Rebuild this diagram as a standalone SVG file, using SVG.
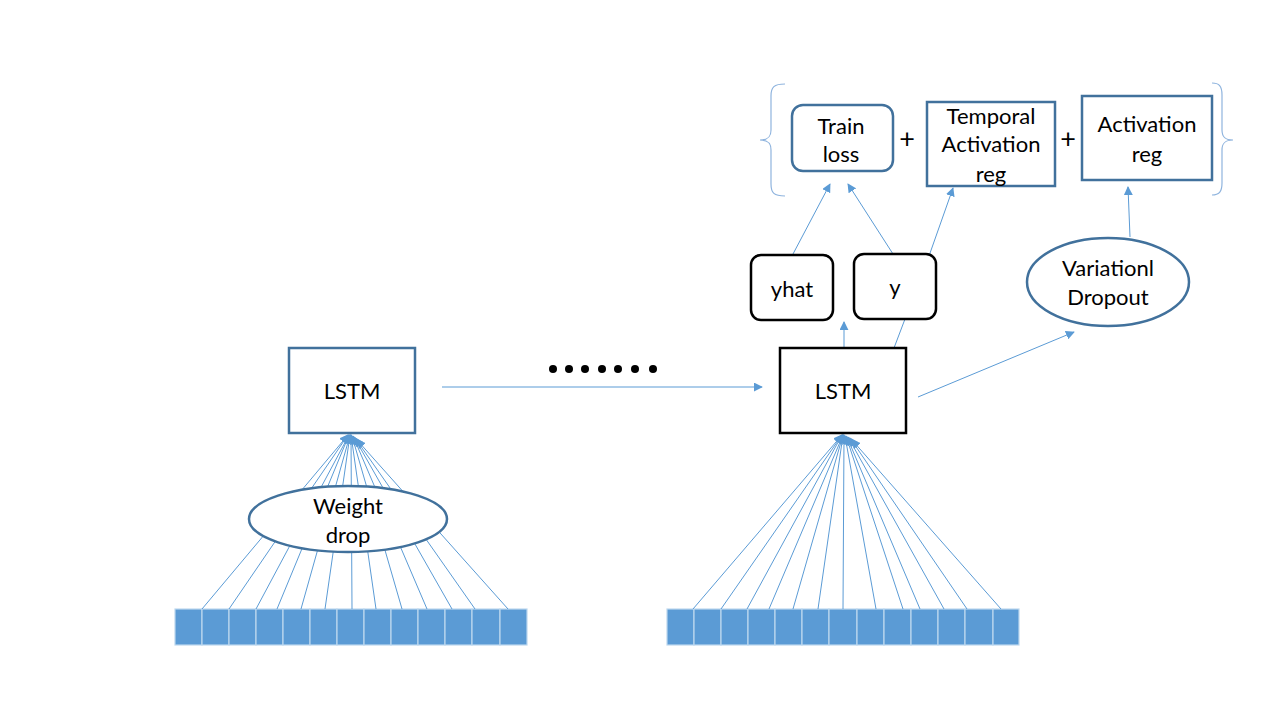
<svg xmlns="http://www.w3.org/2000/svg" width="1280" height="720" viewBox="0 0 1280 720">
<style>
.t{font-family:Lato,"Open Sans","Liberation Sans",sans-serif;font-size:22px;fill:#000;text-anchor:middle;dominant-baseline:central}
.p{font-size:27px}
.bb{fill:#fff;stroke:#41719C;stroke-width:2.5}
.bk{fill:#fff;stroke:#000;stroke-width:2.5}
.c{stroke:#5B9BD5;stroke-width:1;fill:none}
.cell{fill:#5B9BD5;stroke:#BDD7EE;stroke-width:1.2}
.br{fill:none;stroke:#8FB4DE;stroke-width:1.2}
</style>
<defs>
<marker id="ah" viewBox="0 0 10 10" refX="9" refY="5" markerWidth="9" markerHeight="9" markerUnits="userSpaceOnUse" orient="auto">
<path d="M0,0 L10,5 L0,10 z" fill="#5B9BD5"/>
</marker>
</defs>
<rect width="1280" height="720" fill="#fff"/>

<g id="cells-left">
<rect class="cell" x="175" y="609" width="27" height="36"/>
<rect class="cell" x="202" y="609" width="27" height="36"/>
<rect class="cell" x="229" y="609" width="27" height="36"/>
<rect class="cell" x="256" y="609" width="27" height="36"/>
<rect class="cell" x="283" y="609" width="27" height="36"/>
<rect class="cell" x="310" y="609" width="27" height="36"/>
<rect class="cell" x="337" y="609" width="27" height="36"/>
<rect class="cell" x="364" y="609" width="27" height="36"/>
<rect class="cell" x="391" y="609" width="27" height="36"/>
<rect class="cell" x="418" y="609" width="27" height="36"/>
<rect class="cell" x="445" y="609" width="27" height="36"/>
<rect class="cell" x="472" y="609" width="28" height="36"/>
<rect class="cell" x="500" y="609" width="27" height="36"/>
</g>
<g id="cells-right">
<rect class="cell" x="667" y="609" width="27" height="36"/>
<rect class="cell" x="694" y="609" width="27" height="36"/>
<rect class="cell" x="721" y="609" width="27" height="36"/>
<rect class="cell" x="748" y="609" width="27" height="36"/>
<rect class="cell" x="775" y="609" width="27" height="36"/>
<rect class="cell" x="802" y="609" width="27" height="36"/>
<rect class="cell" x="829" y="609" width="28" height="36"/>
<rect class="cell" x="857" y="609" width="27" height="36"/>
<rect class="cell" x="884" y="609" width="27" height="36"/>
<rect class="cell" x="911" y="609" width="27" height="36"/>
<rect class="cell" x="938" y="609" width="27" height="36"/>
<rect class="cell" x="965" y="609" width="28" height="36"/>
<rect class="cell" x="993" y="609" width="26" height="36"/>
</g>

<g id="connectors">
<g class="c" marker-end="url(#ah)">
<line x1="202" y1="609" x2="348" y2="435"/>
<line x1="229" y1="609" x2="348" y2="435"/>
<line x1="256" y1="609" x2="349" y2="435"/>
<line x1="277" y1="609" x2="349" y2="435"/>
<line x1="301" y1="609" x2="350" y2="435"/>
<line x1="325" y1="609" x2="350" y2="435"/>
<line x1="352" y1="609" x2="351" y2="435"/>
<line x1="376" y1="609" x2="351" y2="435"/>
<line x1="402" y1="609" x2="352" y2="436"/>
<line x1="427" y1="609" x2="353" y2="436"/>
<line x1="452" y1="609" x2="354" y2="437"/>
<line x1="475" y1="609" x2="355" y2="438"/>
<line x1="508" y1="609" x2="357" y2="440"/>

<line x1="693" y1="609" x2="842" y2="435"/>
<line x1="721" y1="609" x2="842" y2="435"/>
<line x1="747" y1="609" x2="842" y2="435"/>
<line x1="769" y1="609" x2="843" y2="435"/>
<line x1="793" y1="609" x2="843" y2="435"/>
<line x1="818" y1="609" x2="843" y2="435"/>
<line x1="843" y1="609" x2="844" y2="435"/>
<line x1="876" y1="609" x2="845" y2="436"/>
<line x1="903" y1="609" x2="846" y2="436"/>
<line x1="920" y1="609" x2="847" y2="437"/>
<line x1="944" y1="609" x2="848" y2="437"/>
<line x1="967" y1="609" x2="850" y2="438"/>
<line x1="1001" y1="609" x2="852" y2="440"/>

<line x1="442" y1="387" x2="762" y2="387"/>
<line x1="844" y1="348" x2="844" y2="322"/>
<line x1="918" y1="397" x2="1074" y2="332"/>
<line x1="793" y1="254" x2="830" y2="184"/>
<line x1="893" y1="254" x2="848" y2="184"/>
<line x1="929" y1="256" x2="953" y2="188"/>
<line x1="1130" y1="237" x2="1128" y2="187"/>
</g>
<line class="c" x1="905" y1="319" x2="894" y2="348"/>
</g>

<g id="lstm-left">
<rect class="bb" x="289" y="348" width="126" height="85"/>
<text class="t" x="352" y="390">LSTM</text>
</g>
<g id="weight-drop">
<ellipse class="bb" cx="348" cy="519" rx="99" ry="33"/>
<text class="t" x="348" y="505">Weight</text>
<text class="t" x="348" y="534">drop</text>
</g>
<g id="dots" fill="#000">
<circle cx="553" cy="369" r="4"/>
<circle cx="569" cy="369" r="4"/>
<circle cx="585" cy="369" r="4"/>
<circle cx="602" cy="369" r="4"/>
<circle cx="618" cy="369" r="4"/>
<circle cx="635" cy="369" r="4"/>
<circle cx="653" cy="369" r="4"/>
</g>
<g id="lstm-right">
<rect class="bk" x="780" y="348" width="126" height="85"/>
<text class="t" x="843" y="390">LSTM</text>
</g>
<g id="yhat">
<rect class="bk" x="751" y="255" width="82" height="65" rx="10"/>
<text class="t" x="792" y="288">yhat</text>
</g>
<g id="y">
<rect class="bk" x="854" y="254" width="82" height="65" rx="10"/>
<text class="t" x="895" y="286">y</text>
</g>
<g id="variational-dropout">
<ellipse class="bb" cx="1108" cy="282" rx="81" ry="44"/>
<text class="t" x="1108" y="267">Variationl</text>
<text class="t" x="1108" y="296">Dropout</text>
</g>
<g id="train-loss">
<rect class="bb" x="792" y="105" width="101" height="66" rx="11"/>
<text class="t" x="841" y="125">Train</text>
<text class="t" x="841" y="153">loss</text>
</g>
<g id="plus1"><text class="t p" x="907" y="137">+</text></g>
<g id="temporal">
<rect class="bb" x="927" y="102" width="128" height="84"/>
<text class="t" x="991" y="115">Temporal</text>
<text class="t" x="991" y="143">Activation</text>
<text class="t" x="991" y="173">reg</text>
</g>
<g id="plus2"><text class="t p" x="1068" y="137">+</text></g>
<g id="activation-reg">
<rect class="bb" x="1082" y="96" width="130" height="84"/>
<text class="t" x="1147" y="123">Activation</text>
<text class="t" x="1147" y="153">reg</text>
</g>
<g id="braces">
<path class="br" d="M785,84 C774,84 771,87 771,96 L771,130 C771,137 768,140 760,140 C768,140 771,143 771,150 L771,184 C771,193 774,196 785,196"/>
<path class="br" d="M1212,83 C1219,83 1222,86 1222,95 L1222,130 C1222,137 1225,140 1233,140 C1225,140 1222,143 1222,150 L1222,183 C1222,192 1219,195 1212,195"/>
</g>
</svg>
